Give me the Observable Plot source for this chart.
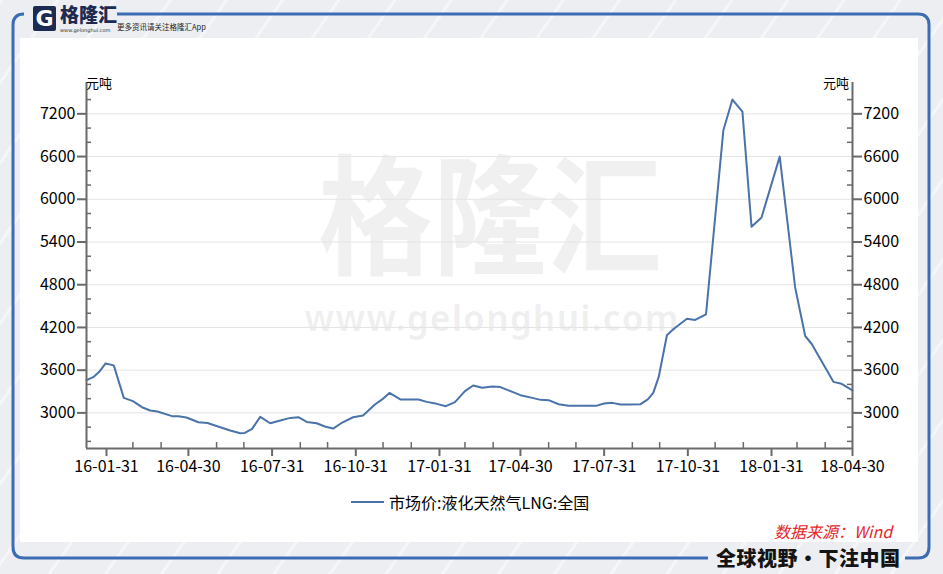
<!DOCTYPE html>
<html>
<head>
<meta charset="utf-8">
<script src="https://cdn.jsdelivr.net/npm/d3@7"></script>
<script src="https://cdn.jsdelivr.net/npm/@observablehq/plot@0.6"></script>
<style>
  html, body { margin: 0; padding: 0; }
  body { width: 943px; height: 574px; overflow: hidden; position: relative;
    font-family: "Noto Sans CJK SC", "Noto Sans", sans-serif;
    background: #eceef1;
    background-image: repeating-linear-gradient(125deg, rgba(255,255,255,0.45) 0 3px, rgba(255,255,255,0) 3px 46px);
  }
  .abs { position: absolute; }
  #panel { left: 20px; top: 38px; width: 898px; height: 504px; background: #fff; }
  #frame { left: 0; top: 0; }
  #wm1 { left: 290px; top: 146px; width: 400px; height: 124px; text-align: center; white-space: nowrap; font-size: 122px; line-height: 124px; color: rgba(0,0,0,0.06); font-weight: 700; transform: scale(0.94, 1.06); }
  #wm2 { left: 290px; top: 304px; width: 404px; height: 28px; text-align: center; white-space: nowrap; font-size: 35px; line-height: 28px; color: rgba(0,0,0,0.06); font-family: "Noto Sans", sans-serif; font-weight: 700; letter-spacing: 1px; }
  #chart { left: 0; top: 60px; }
  .unit { font-size: 13px; color: #000; line-height: 1; }
  #legend { left: 351px; top: 490px; font-size: 16px; color: #000; display: flex; align-items: center; white-space: nowrap; }
  #legend .sw { width: 33px; height: 0; border-top: 2px solid #4a73aa; margin-right: 5px; }
  #source { left: 774px; top: 519px; font-size: 16px; color: #e3262b; font-style: italic; white-space: nowrap; }
  #slogan { left: 716px; top: 543px; font-size: 20px; font-weight: 900; color: #141414; white-space: nowrap; letter-spacing: 0.5px; }
  #logoicon { left: 33px; top: 6px; width: 23px; height: 25px; background: #1d2a52; border-radius: 2px; color: #fff; font: 900 22px/25px "DejaVu Sans", sans-serif; text-align: center; }
  #logotext { left: 60px; top: 4px; height: 20px; font-size: 19px; font-weight: 900; color: #1d2a52; line-height: 20px; }
  #logourl { left: 60px; top: 28px; height: 5px; font-size: 5px; line-height: 5px; color: #333; font-family: "DejaVu Sans", sans-serif; }
  #logosub { left: 117px; top: 21px; font-size: 7.5px; color: #222; white-space: nowrap; }
</style>
</head>
<body>
<div id="panel" class="abs"></div>
<svg id="frame" class="abs" width="943" height="574">
  <path d="M 24 14 Q 13 14 13 25 L 13 547 Q 13 558 24 558 L 708 558" fill="none" stroke="#3c6cb4" stroke-width="3"/>
  <path d="M 117 14 L 918 14 Q 929 14 929 25 L 929 547 Q 929 558 918 558 L 905 558" fill="none" stroke="#3c6cb4" stroke-width="3"/>
</svg>
<div id="logoicon" class="abs">G</div>
<div id="logotext" class="abs">格隆汇</div>
<div id="logourl" class="abs">www.gelonghui.com</div>
<div id="logosub" class="abs">更多资讯请关注格隆汇App</div>
<div id="wm1" class="abs">格隆汇</div>
<div id="wm2" class="abs">www.gelonghui.com</div>
<div id="chart" class="abs"></div>
<div class="abs unit" style="left:86px;top:76px;">元吨</div>
<div class="abs unit" style="left:823px;top:76px;">元吨</div>
<div id="legend" class="abs"><span class="sw"></span><span id="legendText"></span></div>
<div id="source" class="abs">数据来源：Wind</div>
<div id="slogan" class="abs">全球视野・下注中国</div>
<script>
// ---- data ----
const seriesName = "市场价:液化天然气LNG:全国";
const dates = [
  "2016-01-09","2016-01-17","2016-01-23","2016-01-30","2016-02-08","2016-02-19","2016-02-29",
  "2016-03-10","2016-03-19","2016-03-27","2016-04-12","2016-04-19","2016-04-28","2016-05-11",
  "2016-05-21","2016-06-04","2016-06-15","2016-06-26","2016-07-01","2016-07-09","2016-07-18",
  "2016-07-29","2016-08-09","2016-08-20","2016-08-29","2016-09-07","2016-09-18","2016-09-27",
  "2016-10-06","2016-10-15","2016-10-28","2016-11-08","2016-11-21","2016-11-29","2016-12-07",
  "2016-12-19","2017-01-08","2017-01-17","2017-01-28","2017-02-07","2017-02-17","2017-02-28",
  "2017-03-09","2017-03-19","2017-03-30","2017-04-08","2017-04-19","2017-04-30","2017-05-13",
  "2017-05-22","2017-05-31","2017-06-11","2017-06-22","2017-07-22","2017-07-31","2017-08-09",
  "2017-08-18","2017-08-27","2017-09-09","2017-09-17","2017-09-23","2017-09-29","2017-10-08",
  "2017-10-15","2017-10-30","2017-11-08","2017-11-20","2017-12-09","2017-12-19","2017-12-30",
  "2018-01-09","2018-01-20","2018-02-09","2018-02-26","2018-03-09","2018-03-16","2018-04-09",
  "2018-04-18","2018-04-30"
];
const values = [
  3460,3507,3577,3695,3667,3211,3165,
  3080,3034,3020,2954,2954,2935,2869,
  2859,2799,2752,2714,2719,2775,2944,
  2855,2893,2930,2939,2873,2855,2809,
  2780,2855,2939,2963,3118,3189,3281,
  3189,3189,3155,3127,3094,3151,3305,
  3385,3352,3371,3362,3305,3249,3211,
  3183,3179,3122,3099,3099,3132,3141,
  3118,3118,3122,3189,3281,3505,4090,
  4174,4323,4305,4385,6965,7401,7232,
  5614,5745,6599,4759,4080,3971,3436,
  3408,3315
];
const xTickLabels = ["2016-01-31","2016-04-30","2016-07-31","2016-10-31","2017-01-31","2017-04-30","2017-07-31","2017-10-31","2018-01-31","2018-04-30"];
const yTicks = [3000,3600,4200,4800,5400,6000,6600,7200];
const yMinorTicks = [2600,2800,3200,3400,3800,4000,4400,4600,5000,5200,5600,5800,6200,6400,6800,7000,7400];
const xDomain = ["2016-01-09","2018-04-30"];
const yDomain = [2500,7640];

document.getElementById("legendText").textContent = seriesName;

const data = dates.map((d,i) => ({date: new Date(d), value: values[i]}));
const xMajor = xTickLabels.map(d => new Date(d));
const majorSet = new Set(xMajor.map(d => +d));
// month-end minor ticks
const xMinor = d3.utcMonth.range(new Date("2016-02-01"), new Date("2018-05-02"))
  .map(d => d3.utcDay.offset(d, -1))
  .filter(d => !majorSet.has(+d) && d >= new Date(xDomain[0]) && d <= new Date(xDomain[1]));

const W = 943, H = 420, mL = 86, mR = 91, mT = 22, mB = 32;
const pw = W - mL - mR, ph = H - mT - mB;
const axisColor = "#6a6a6a";
const fmt = d3.utcFormat("%y-%m-%d");
const yFmt = d => String(d);

const chart = Plot.plot({
  width: W, height: H,
  marginLeft: mL, marginRight: mR, marginTop: mT, marginBottom: mB,
  style: {fontFamily: "'Noto Sans CJK SC', 'Noto Sans', sans-serif", fontSize: "16px", color: "#000", background: "transparent"},
  x: {type: "utc", domain: xDomain.map(d => new Date(d))},
  y: {domain: yDomain},
  marks: [
    Plot.gridY(yTicks, {stroke: "#e4e4e4", strokeOpacity: 1, strokeWidth: 1}),
    Plot.line(data, {x: "date", y: "value", stroke: "#4a73aa", strokeWidth: 2}),
    Plot.ruleX([new Date(xDomain[0])], {stroke: axisColor, strokeWidth: 2}),
    Plot.ruleX([new Date(xDomain[1])], {stroke: axisColor, strokeWidth: 2}),
    Plot.ruleY([yDomain[0]], {stroke: axisColor, strokeWidth: 2}),
    Plot.tickY(yMinorTicks, {y: d => d, stroke: axisColor, strokeWidth: 1.5, insetRight: pw - 5}),
    Plot.tickY(yMinorTicks, {y: d => d, stroke: axisColor, strokeWidth: 1.5, insetLeft: pw - 5}),
    Plot.tickX(xMinor, {x: d => d, stroke: axisColor, strokeWidth: 1.5, insetTop: ph - 6}),
    Plot.axisY(yTicks, {anchor: "left", tickSize: 9, tickPadding: 2, stroke: axisColor, strokeWidth: 2, fill: "#000", tickFormat: yFmt, label: null}),
    Plot.axisY(yTicks, {anchor: "right", tickSize: 9, tickPadding: 2, stroke: axisColor, strokeWidth: 2, fill: "#000", tickFormat: yFmt, label: null}),
    Plot.axisX(xMajor, {anchor: "bottom", tickSize: 8, tickPadding: 4, stroke: axisColor, strokeWidth: 2, fill: "#000", tickFormat: fmt, label: null})
  ]
});
document.getElementById("chart").appendChild(chart);
</script>
</body>
</html>
